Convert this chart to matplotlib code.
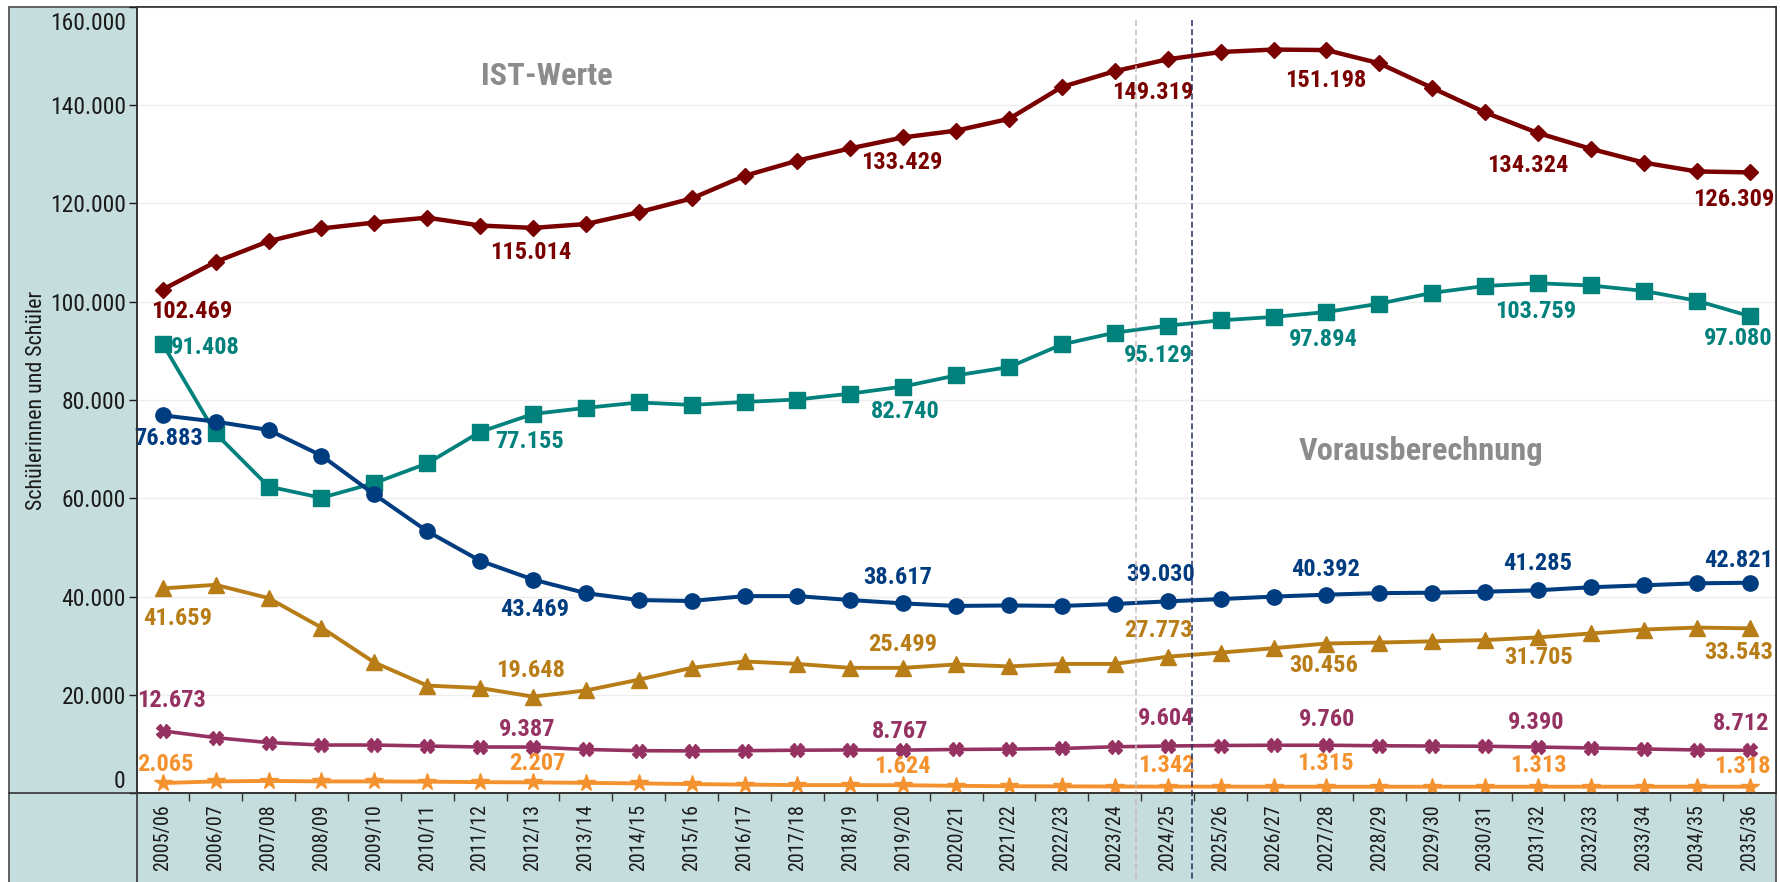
import os
import matplotlib
matplotlib.use("Agg")
import matplotlib.pyplot as plt
from matplotlib import font_manager as fm
from matplotlib import transforms
from matplotlib.font_manager import FontProperties
from matplotlib.textpath import TextToPath
from matplotlib.patches import Rectangle
from matplotlib.lines import Line2D

# ---------------- data ----------------
years = ["2005/06", "2006/07", "2007/08", "2008/09", "2009/10", "2010/11",
         "2011/12", "2012/13", "2013/14", "2014/15", "2015/16", "2016/17",
         "2017/18", "2018/19", "2019/20", "2020/21", "2021/22", "2022/23",
         "2023/24", "2024/25", "2025/26", "2026/27", "2027/28", "2028/29",
         "2029/30", "2030/31", "2031/32", "2032/33", "2033/34", "2034/35",
         "2035/36"]

total = [102469, 108100, 112300, 114900, 116100, 117100, 115500, 115014, 115800,
         118200, 121000, 125600, 128700, 131200, 133429, 134800, 137200, 143700,
         146900, 149319, 150800, 151300, 151198, 148500, 143500, 138500, 134324,
         131100, 128300, 126500, 126309]

teal = [91408, 73200, 62400, 60100, 63100, 67100, 73500, 77155, 78400, 79500,
        79000, 79600, 80100, 81300, 82740, 85000, 86700, 91300, 93700, 95129,
        96200, 96900, 97894, 99600, 101800, 103200, 103759, 103300, 102200,
        100200, 97080]

navy = [76883, 75600, 73900, 68700, 60800, 53300, 47300, 43469, 40700, 39300,
        39100, 40100, 40100, 39300, 38617, 38100, 38200, 38100, 38500, 39030,
        39500, 40000, 40392, 40700, 40800, 41000, 41285, 41900, 42300, 42700,
        42821]

golden = [41659, 42400, 39700, 33700, 26600, 21900, 21400, 19648, 20900, 23100,
          25500, 26800, 26300, 25500, 25499, 26200, 25800, 26300, 26300, 27773,
          28600, 29500, 30456, 30650, 30900, 31150, 31705, 32500, 33300, 33700,
          33543]

magenta = [12673, 11300, 10300, 9800, 9800, 9600, 9400, 9387, 8900, 8650,
           8600, 8650, 8750, 8800, 8767, 8900, 8970, 9100, 9450, 9604,
           9700, 9760, 9760, 9650, 9600, 9550, 9390, 9200, 9000, 8800, 8712]

orange = [2065, 2400, 2500, 2400, 2400, 2350, 2250, 2207, 2100, 2000,
          1850, 1750, 1650, 1650, 1624, 1500, 1420, 1400, 1360, 1342,
          1330, 1320, 1315, 1315, 1315, 1314, 1313, 1315, 1316, 1317, 1318]

label_idx = [0, 7, 14, 19, 22, 26, 30]

yticks = [0, 20000, 40000, 60000, 80000, 100000, 120000, 140000, 160000]
ytick_labels = ["0", "20.000", "40.000", "60.000", "80.000", "100.000",
                "120.000", "140.000", "160.000"]

# ---------------- fonts: prefer a narrow sans like the original ----------------
def pick(patterns):
    for pat in patterns:
        for f in fm.fontManager.ttflist:
            if pat in os.path.basename(f.fname).lower():
                return f.fname
    return None

reg_path = pick(["liberationsansnarrow-regular", "arialn.", "notosans-condensed.",
                 "robotocondensed-regular", "opensans-condensed.",
                 "dejavusanscondensed.", "liberationsans-regular"])
bold_path = pick(["liberationsansnarrow-bold.", "arialnb", "notosans-condensedbold",
                  "robotocondensed-bold.", "opensans-condensedbold",
                  "dejavusanscondensed-bold", "liberationsans-bold."])

def fp(path, size, fallback_weight="normal"):
    if path:
        return FontProperties(fname=path, size=size)
    return FontProperties(family="Liberation Sans", weight=fallback_weight, size=size)

def width_factor(path, weight):
    # scale so that digit widths roughly match Arial Narrow (0.456 em per digit)
    prop = fp(path, 100, weight)
    w, _, _ = TextToPath().get_text_width_height_descent("0123456789", prop, ismath=False)
    dw = w / 100.0 / 10.0
    return min(1.0, 1.04 * 0.456 / dw)

KR = width_factor(reg_path, "normal")
KB = width_factor(bold_path, "bold")

W, H = 1780, 882
PANEL = "#C5DDDD"
def fx(px): return px / W
def fy(py): return 1 - py / H

series = [
    # values, color, marker, ms, lw, label offsets (px: dx, dy-down)
    (total, "#7A0000", "D", 8.5, 3.2,
     [(29, 22), (-2, 25), (-1, 25), (-15, 33), (-1, 30), (-10, 33), (-16, 27)]),
    (teal, "#00817C", "s", 11, 2.7,
     [(43, 4), (-3, 28), (2, 25), (-9, 30), (-3, 27), (-2, 28), (-11, 22)]),
    (navy, "#003C80", "o", 11, 2.9,
     [(6, 23), (2, 30), (-6, -26), (-7, -27), (-1, -25), (0, -27), (-11, -22)]),
    (golden, "#B87D16", "^", 11, 2.8,
     [(15, 30), (-2, -26), (-1, -23), (-9, -26), (-3, 22), (1, 20), (-11, 24)]),
    (magenta, "#963262", "X", 9.5, 2.6,
     [(9, -30), (-6, -18), (-3, -19), (-2, -27), (1, -26), (-2, -25), (-8, -27)]),
    (orange, "#F4922F", "*", 13, 2.8,
     [(3, -19), (4, -19), (-1, -19), (-1, -21), (-1, -23), (0, -21), (-7, -20)]),
]

fig = plt.figure(figsize=(W / 100, H / 100), dpi=100, facecolor="white")

# outer light panel with frame
fig.add_artist(Rectangle((fx(9), -0.02), fx(1776) - fx(9), fy(6.8) + 0.02,
                         transform=fig.transFigure, facecolor=PANEL,
                         edgecolor="#555555", lw=1.3, zorder=0))

ax = fig.add_axes([fx(136.8), fy(793.2), fx(1776) - fx(136.8),
                   fy(6.8) - fy(793.2)])
ax.set_facecolor("white")
ax.set_zorder(1)

x = list(range(len(years)))
label_fp = fp(bold_path, 17 * KB * 1.1, "bold")
for vals, col, mk, ms, lw, offs in series:
    ax.plot(x, vals, color=col, lw=lw, marker=mk, ms=ms, mfc=col, mec=col,
            solid_joinstyle="round", zorder=3)
    for i, (dx, dy) in zip(label_idx, offs):
        v = vals[i]
        ax.annotate(f"{v:,}".replace(",", "."), xy=(i, v),
                    xytext=(dx, -dy), textcoords="offset pixels",
                    ha="center", va="center", color=col,
                    fontproperties=label_fp, zorder=6)

ax.set_xlim(-0.49, 30.5)
ax.set_ylim(0, 160000)

ytick_fp = fp(reg_path, 15.3 * KR * 1.15)
xtick_fp = fp(reg_path, 15.3 * KR * 0.98)
ax.set_yticks(yticks)
ax.set_yticklabels(ytick_labels)
ax.tick_params(axis="y", direction="out", length=6, width=1, pad=2,
               colors="#1a1a1a")
tl = ax.get_yticklabels()
for t in tl:
    t.set_fontproperties(ytick_fp)
tl[0].set_va("bottom")
tl[-1].set_va("top")
tl[-1].set_transform(tl[-1].get_transform() +
                     transforms.ScaledTranslation(0, -5 / 100, fig.dpi_scale_trans))

ax.set_xticks(x)
ax.set_xticklabels(years, rotation=90)
for t in ax.get_xticklabels():
    t.set_fontproperties(xtick_fp)
ax.set_xticks([i + 0.5 for i in range(len(years) - 1)], minor=True)
ax.tick_params(axis="x", which="major", length=0, pad=11 * 0.72,
               colors="#1a1a1a")
ax.tick_params(axis="x", which="minor", direction="out", length=6, width=1,
               color="#333333")

ax.grid(axis="y", color="#EEEEEE", lw=1)
ax.set_axisbelow(True)
for s in ax.spines.values():
    s.set_color("#333333")
    s.set_linewidth(1.2)

# extended axis lines into the panel
fig.add_artist(Line2D([fx(136.8), fx(136.8)], [0, fy(6.8)], transform=fig.transFigure,
                      color="#333333", lw=1.2, zorder=5))
fig.add_artist(Line2D([fx(9), fx(1776)], [fy(793.2), fy(793.2)], transform=fig.transFigure,
                      color="#333333", lw=1.2, zorder=5))

# separators between actual values and projection
bt = transforms.blended_transform_factory(ax.transData, fig.transFigure)
fig.add_artist(Line2D([18.4, 18.4], [fy(20), fy(880)], transform=bt,
                      color="#C9B8C0", lw=1.1, ls=(0, (4, 2)), zorder=4))
fig.add_artist(Line2D([19.45, 19.45], [fy(20), fy(880)], transform=bt,
                      color="#1F2F60", lw=1.1, ls=(0, (4, 2)), zorder=4))

big_fp = fp(bold_path, 23 * KB * 1.08, "bold")
ax.text(fx(547), fy(76), "IST-Werte", transform=fig.transFigure, ha="center",
        va="center", fontproperties=big_fp, color="#8C8C8C", zorder=6)
ax.text(fx(1421), fy(451), "Vorausberechnung", transform=fig.transFigure,
        ha="center", va="center", fontproperties=big_fp,
        color="#8C8C8C", zorder=6)

fig.text(fx(37), fy(400), "Schülerinnen und Schüler", rotation=90,
         ha="center", va="center", fontproperties=fp(reg_path, 16.5 * KR),
         color="#1a1a1a")

fig.savefig("out.png", dpi=100, facecolor="white")
